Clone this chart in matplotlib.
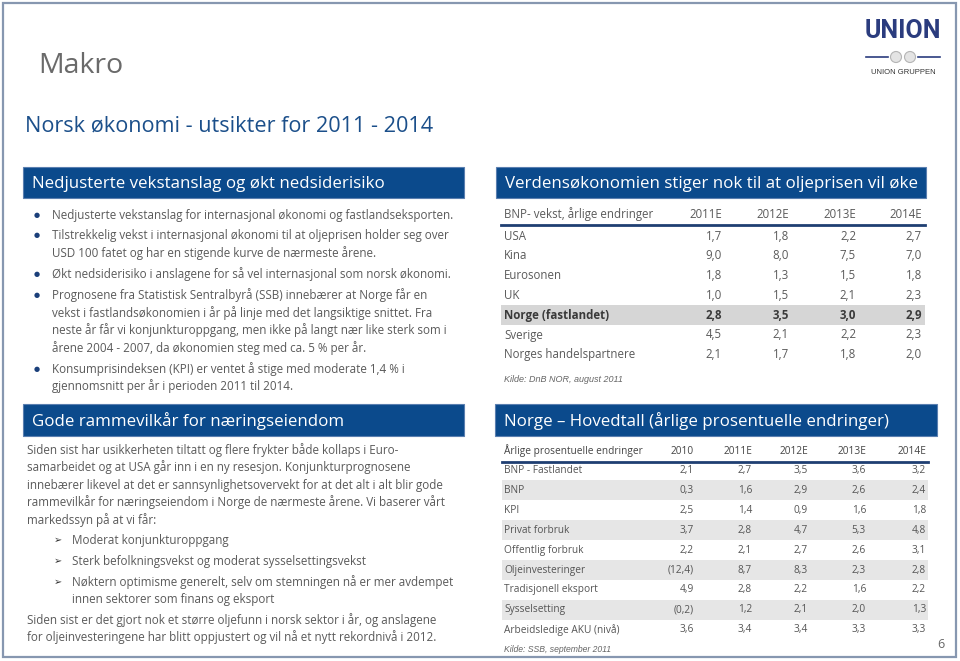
import matplotlib
matplotlib.use('Agg')
import matplotlib.pyplot as plt
from matplotlib.patches import Rectangle, Circle

FONT = ['Open Sans', 'DejaVu Sans']
plt.rcParams['font.family'] = FONT

# colours
BLUE = '#0b4a8c'
GREY_TXT = '#5a5a5a'
HEAD_BLUE = '#1b4f8a'

# ---------------- data ----------------
title_main = 'Makro'
title_sub = 'Norsk økonomi - utsikter for 2011 - 2014'

bar_titles = ['Nedjusterte vekstanslag og økt nedsiderisiko',
              'Verdensøkonomien stiger nok til at oljeprisen vil øke',
              'Gode rammevilkår for næringseiendom',
              'Norge \u2013 Hovedtall (årlige prosentuelle endringer)']

bullets = [
    ['Nedjusterte vekstanslag for internasjonal økonomi og fastlandseksporten.'],
    ['Tilstrekkelig vekst i internasjonal økonomi til at oljeprisen holder seg over',
     'USD 100 fatet og har en stigende kurve de nærmeste årene.'],
    ['Økt nedsiderisiko i anslagene for så vel internasjonal som norsk økonomi.'],
    ['Prognosene fra Statistisk Sentralbyrå (SSB) innebærer at Norge får en',
     'vekst i fastlandsøkonomien i år på linje med det langsiktige snittet. Fra',
     'neste år får vi konjunkturoppgang, men ikke på langt nær like sterk som i',
     'årene 2004 - 2007, da økonomien steg med ca. 5 % per år.'],
    ['Konsumprisindeksen (KPI) er ventet å stige med moderate 1,4 % i',
     'gjennomsnitt per år i perioden 2011 til 2014.'],
]

para1 = ['Siden sist har usikkerheten tiltatt og flere frykter både kollaps i Euro-',
         'samarbeidet og at USA går inn i en ny resesjon. Konjunkturprognosene',
         'innebærer likevel at det er sannsynlighetsovervekt for at det alt i alt blir gode',
         'rammevilkår for næringseiendom i Norge de nærmeste årene. Vi baserer vårt',
         'markedssyn på at vi får:']
arrows = [['Moderat konjunkturoppgang'],
          ['Sterk befolkningsvekst og moderat sysselsettingsvekst'],
          ['Nøktern optimisme generelt, selv om stemningen nå er mer avdempet',
           'innen sektorer som finans og eksport']]
para2 = ['Siden sist er det gjort nok et større oljefunn i norsk sektor i år, og anslagene',
         'for oljeinvesteringene har blitt oppjustert og vil nå et nytt rekordnivå i 2012.']

# table 1: BNP growth
t1_head = 'BNP- vekst, årlige endringer'
t1_cols = ['2011E', '2012E', '2013E', '2014E']
t1_rows = ['USA', 'Kina', 'Eurosonen', 'UK', 'Norge (fastlandet)', 'Sverige',
           'Norges handelspartnere']
t1_vals = [['1,7', '1,8', '2,2', '2,7'],
           ['9,0', '8,0', '7,5', '7,0'],
           ['1,8', '1,3', '1,5', '1,8'],
           ['1,0', '1,5', '2,1', '2,3'],
           ['2,8', '3,5', '3,0', '2,9'],
           ['4,5', '2,1', '2,2', '2,3'],
           ['2,1', '1,7', '1,8', '2,0']]
t1_source = 'Kilde: DnB NOR, august 2011'

# table 2: Norway key figures
t2_head = 'Årlige prosentuelle endringer'
t2_cols = ['2010', '2011E', '2012E', '2013E', '2014E']
t2_rows = ['BNP - Fastlandet', 'BNP', 'KPI', 'Privat forbruk', 'Offentlig forbruk',
           'Oljeinvesteringer', 'Tradisjonell eksport', 'Sysselsetting',
           'Arbeidsledige AKU (nivå)']
t2_vals = [['2,1', '2,7', '3,5', '3,6', '3,2'],
           ['0,3', '1,6', '2,9', '2,6', '2,4'],
           ['2,5', '1,4', '0,9', '1,6', '1,8'],
           ['3,7', '2,8', '4,7', '5,3', '4,8'],
           ['2,2', '2,1', '2,7', '2,6', '3,1'],
           ['(12,4)', '8,7', '8,3', '2,3', '2,8'],
           ['4,9', '2,8', '2,2', '1,6', '2,2'],
           ['(0,2)', '1,2', '2,1', '2,0', '1,3'],
           ['3,6', '3,4', '3,4', '3,3', '3,3']]
t2_source = 'Kilde: SSB, september 2011'
page_no = '6'

# ---------------- figure ----------------
fig = plt.figure(figsize=(9.6, 6.61), dpi=100)
ax = fig.add_axes([0, 0, 1, 1])
ax.set_xlim(0, 960)
ax.set_ylim(661, 0)
ax.axis('off')

# slide frame
ax.add_patch(Rectangle((3, 3), 953, 654, fill=False, ec='#8797b0', lw=1.6))

ax.text(38, 66, title_main, fontsize=20.5, color='#6a6a6a', va='center')
ax.text(25, 126, title_sub, fontsize=15.6, color=HEAD_BLUE, va='center')

# logo
ax.text(903, 31, 'UNION', fontsize=18, fontweight='bold', color='#2b3c7e',
        ha='center', va='center', family=['Roboto', 'DejaVu Sans'])
ax.plot([866, 888], [57, 57], color='#2b3c7e', lw=1.2)
ax.plot([918, 940], [57, 57], color='#2b3c7e', lw=1.2)
ax.add_patch(Circle((896, 57), 5.5, fc='#e4e4e4', ec='#b5b5b5', lw=0.8))
ax.add_patch(Circle((910, 57), 5.5, fc='#e4e4e4', ec='#b5b5b5', lw=0.8))
ax.text(903, 72, 'UNION GRUPPEN', fontsize=5.5, color='#333333', ha='center', va='center',
        family=['Liberation Sans', 'DejaVu Sans'])

# blue header bars
bars = [(23, 167, 441, 31), (496, 167, 430, 31),
        (23, 404, 441, 32), (495, 404, 442, 32)]
for (bx, by, bw, bh), txt in zip(bars, bar_titles):
    ax.add_patch(Rectangle((bx, by), bw, bh, fc=BLUE, ec='#5a7fb0', lw=0.8))
    ax.text(bx + 9, by + bh / 2 + 1, txt, fontsize=12.2, color='white', va='center')

# bullet list
y = 215
for item in bullets:
    ax.text(37, y, '\u25cf', fontsize=5, color='#1b3f7a', ha='center', va='center')
    for line in item:
        ax.text(52, y, line, fontsize=8.4, color=GREY_TXT, va='center')
        y += 17.5
    y += 3.5

# paragraph block
y = 450
for line in para1:
    ax.text(27, y, line, fontsize=8.4, color=GREY_TXT, va='center')
    y += 17.5
y += 3
for item in arrows:
    ax.text(58, y, '\u27a2', fontsize=7, color='#333333', ha='center', va='center')
    for line in item:
        ax.text(72, y, line, fontsize=8.4, color=GREY_TXT, va='center')
        y += 17.5
    y += 3.5
y -= 1
for line in para2:
    ax.text(27, y, line, fontsize=8.4, color=GREY_TXT, va='center')
    y += 17.5

# table 1
t1_x = [722, 789, 856, 922]
ax.text(504, 214, t1_head, fontsize=8.3, color=GREY_TXT, va='center')
for cx, c in zip(t1_x, t1_cols):
    ax.text(cx, 214, c, fontsize=8.3, color=GREY_TXT, va='center', ha='right')
ax.plot([501, 925], [225, 225], color='#1f3f72', lw=2)
for i, (name, vals) in enumerate(zip(t1_rows, t1_vals)):
    ry = 236 + i * 19.8
    bold = name.startswith('Norge (')
    if bold:
        ax.add_patch(Rectangle((501, ry - 10), 424, 20, fc='#d6d6d6', ec='none'))
    w = 'bold' if bold else 'normal'
    col = '#3a3a3a' if bold else GREY_TXT
    ax.text(504, ry, name, fontsize=8.3, color=col, va='center', fontweight=w)
    for cx, v in zip(t1_x, vals):
        ax.text(cx, ry, v, fontsize=8.3, color=col, va='center', ha='right', fontweight=w)
ax.text(504, 379, t1_source, fontsize=6.5, color='#666666', va='center', style='italic',
        family=['Liberation Sans', 'DejaVu Sans'])

# table 2
t2_x = [694, 752, 808, 866, 926]
ax.text(504, 451, t2_head, fontsize=7.3, color='#444444', va='center')
for cx, c in zip(t2_x, t2_cols):
    ax.text(cx, 451, c, fontsize=7.3, color='#444444', va='center', ha='right')
ax.plot([502, 928], [462, 462], color='#1f3f72', lw=2)
for i, (name, vals) in enumerate(zip(t2_rows, t2_vals)):
    ry = 470.5 + i * 19.9
    if i % 2 == 1:
        ax.add_patch(Rectangle((502, ry - 10), 426, 20, fc='#e6e6e6', ec='none'))
    ax.text(504, ry, name, fontsize=7.3, color='#555555', va='center')
    for cx, v in zip(t2_x, vals):
        ax.text(cx, ry, v, fontsize=7.3, color='#555555', va='center', ha='right')
ax.text(504, 650, t2_source, fontsize=6.2, color='#666666', va='center', style='italic',
        family=['Liberation Sans', 'DejaVu Sans'])

ax.text(941, 645, page_no, fontsize=9, color='#666666', ha='center', va='center')

fig.savefig('out.png', dpi=100)
